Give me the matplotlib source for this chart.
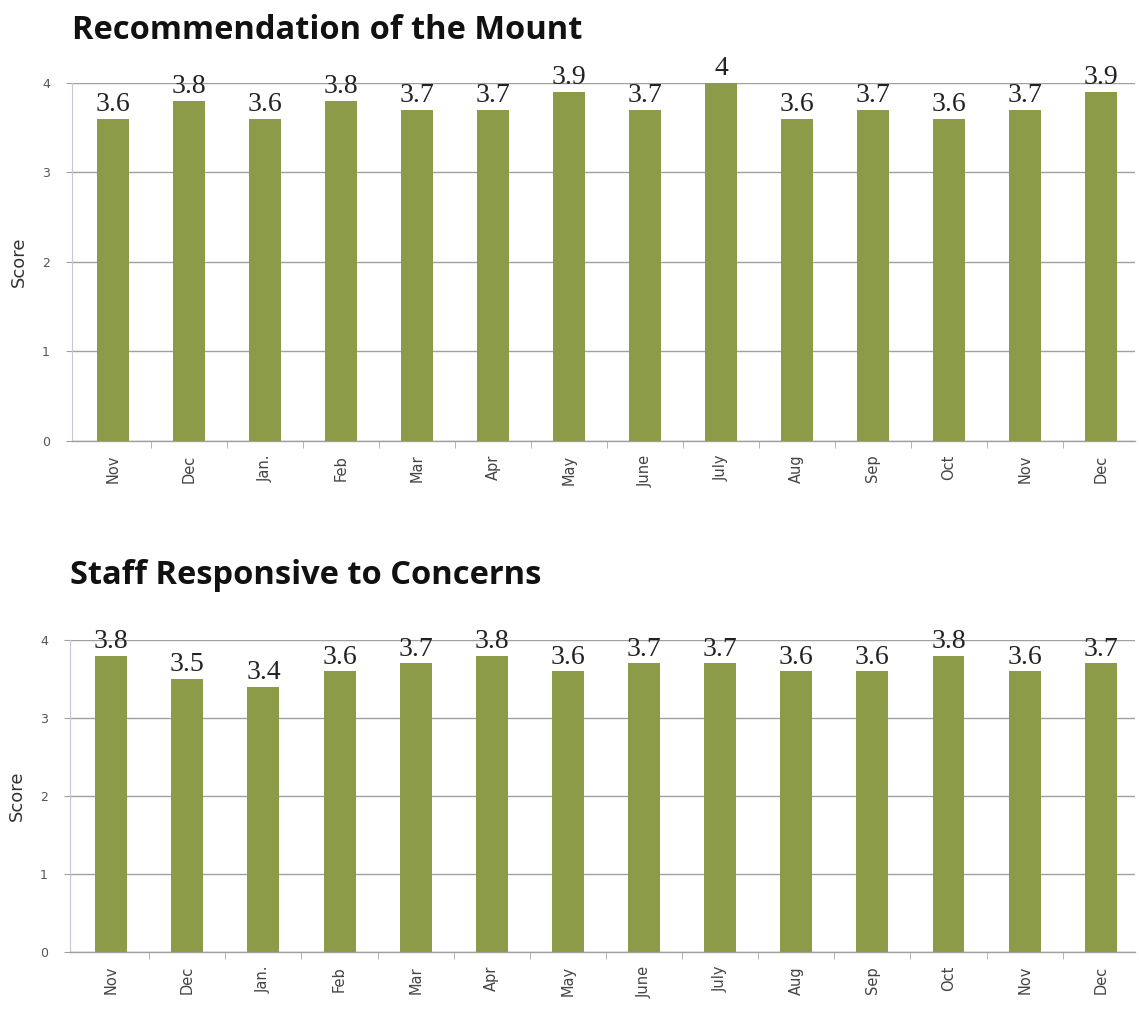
import numpy as np
import matplotlib.pyplot as plt

months = ["Nov", "Dec", "Jan.", "Feb", "Mar", "Apr", "May", "June",
          "July", "Aug", "Sep", "Oct", "Nov", "Dec"]
recommend = [3.6, 3.8, 3.6, 3.8, 3.7, 3.7, 3.9, 3.7, 4, 3.6, 3.7, 3.6, 3.7, 3.9]
staff = [3.8, 3.5, 3.4, 3.6, 3.7, 3.8, 3.6, 3.7, 3.7, 3.6, 3.6, 3.8, 3.6, 3.7]

bar_color = "#8c9b48"
grid_color = "#a0a0a0"

fig = plt.figure(figsize=(11.39, 10.13), dpi=100)

def draw(ax, values, title, title_y):
    x = np.arange(len(months))
    ax.bar(x, values, width=0.42, color=bar_color, zorder=3)
    for xi, v in zip(x, values):
        lab = f"{v:g}"
        ax.text(xi, v + 0.02, lab, ha="center", va="bottom",
                family="Liberation Serif", fontsize=20, color="#222222", zorder=4)
    ax.set_xlim(-0.54, 13.45)
    ax.set_ylim(0, 4)
    ax.set_yticks([0, 1, 2, 3, 4])
    ax.yaxis.grid(True, color=grid_color, linewidth=1.0, zorder=0)
    ax.set_axisbelow(True)
    for s in ["top", "right"]:
        ax.spines[s].set_visible(False)
    ax.spines["left"].set_color("#c8c8d0")
    ax.spines["bottom"].set_color(grid_color)
    ax.spines["bottom"].set_linewidth(1.0)
    ax.set_xticks(x)
    ax.set_xticklabels(months, rotation=90, fontsize=10.5, color="#444444")
    ax.set_xticks(np.arange(len(months) - 1) + 0.5, minor=True)
    ax.tick_params(axis="x", which="major", length=0, pad=10)
    ax.tick_params(axis="x", which="minor", length=5, color="#aaaaaa", direction="out")
    ax.tick_params(axis="y", length=4, color=grid_color, labelsize=9,
                   labelcolor="#555555", pad=12)
    ax.set_ylabel("Score", fontsize=13, color="#333333", labelpad=10)
    fig.text(ax.get_position().x0, title_y, title, ha="left", va="center",
             family="Open Sans", fontweight="bold", fontsize=23.5, color="#111111")

ax1 = fig.add_axes([0.0632, 0.5647, 0.9333, 0.3534])
draw(ax1, recommend, "Recommendation of the Mount", 0.970)

ax2 = fig.add_axes([0.0615, 0.0602, 0.935, 0.308])
draw(ax2, staff, "Staff Responsive to Concerns", 0.432)

fig.savefig("out.png", dpi=100)
